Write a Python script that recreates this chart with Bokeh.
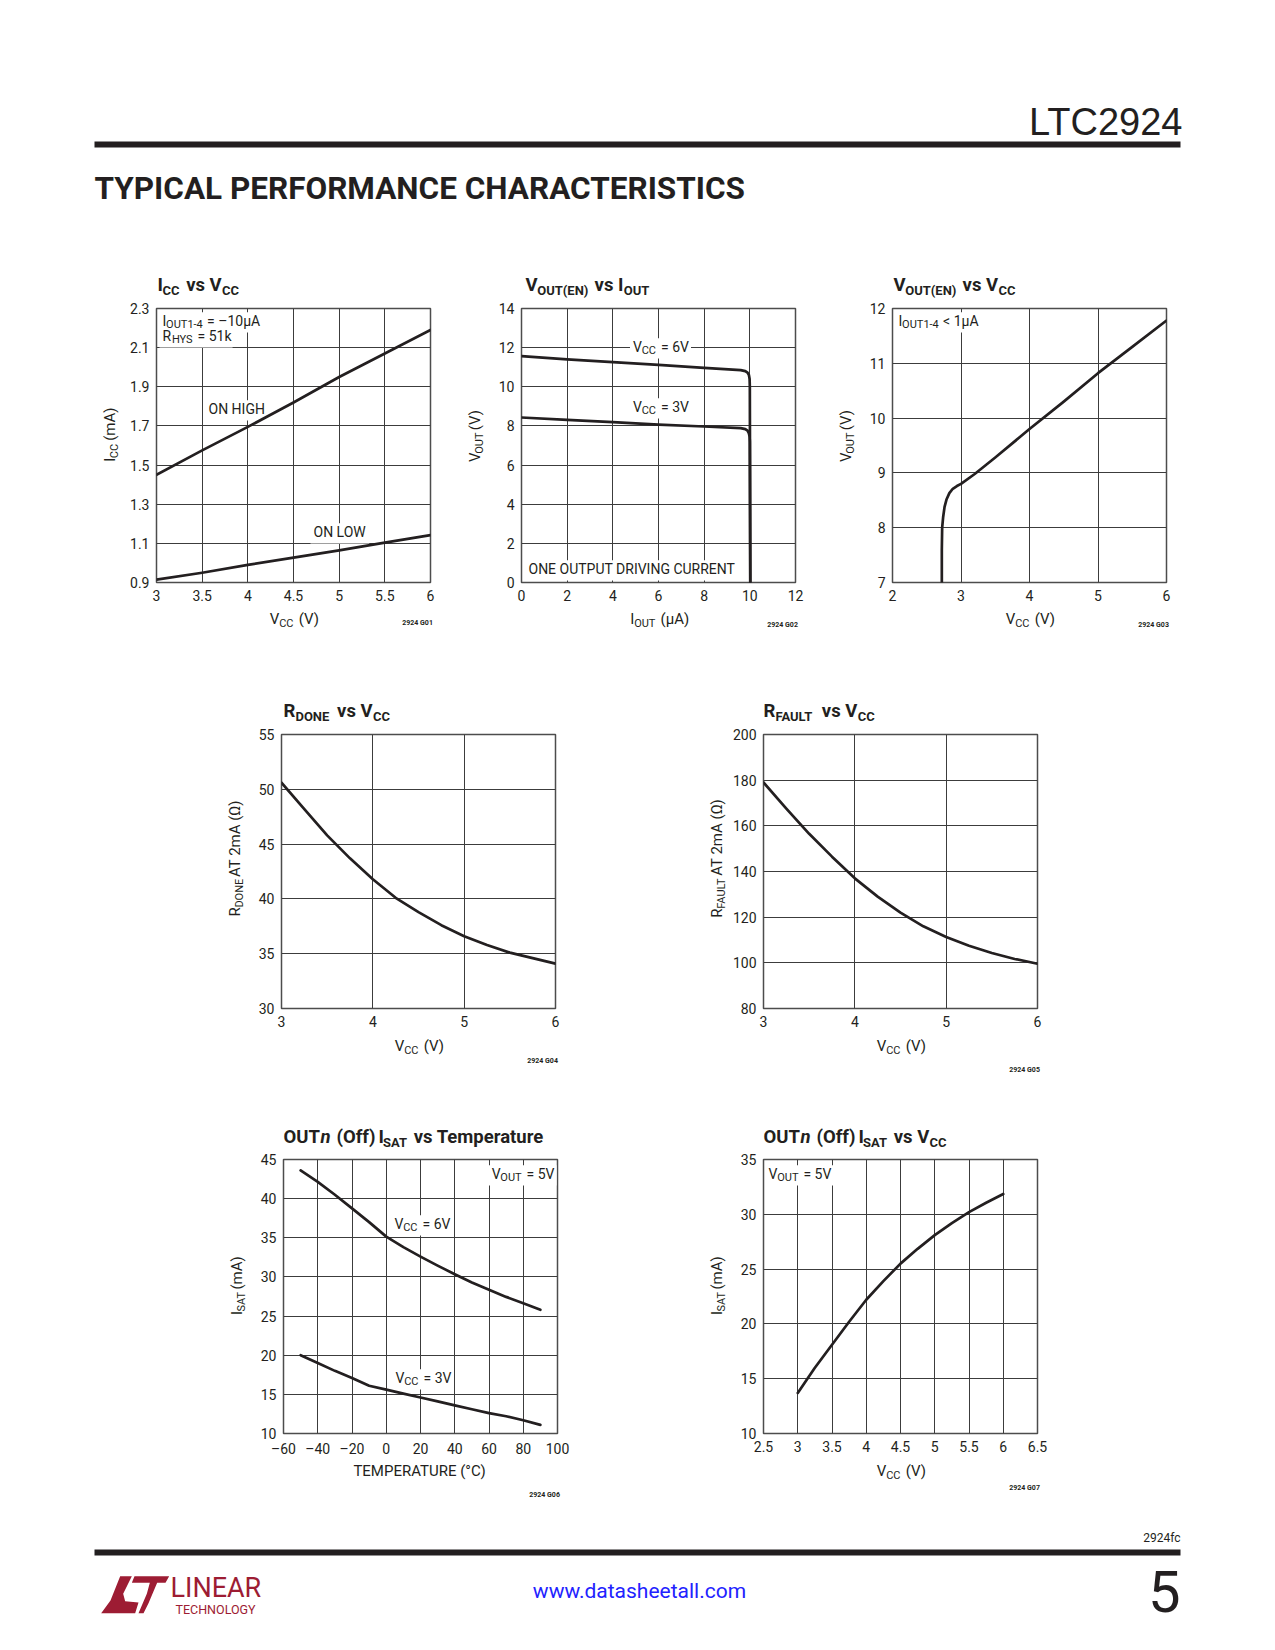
import math
from bokeh.plotting import figure
from bokeh.models import Label, Range1d, FixedTicker
from bokeh.layouts import column, row
from bokeh.embed import file_html
from bokeh.resources import INLINE

# ---------------- data ----------------
# G01  ICC vs VCC
icc_vcc = [3.0, 3.5, 4.0, 4.5, 5.0, 5.5, 6.0]
icc_on_high = [1.45, 1.575, 1.695, 1.82, 1.95, 2.07, 2.19]
icc_on_low = [0.915, 0.95, 0.99, 1.027, 1.064, 1.104, 1.142]
icc_xticks = [3, 3.5, 4, 4.5, 5, 5.5, 6]
icc_xlabels = ["3", "3.5", "4", "4.5", "5", "5.5", "6"]
icc_yticks = [0.9, 1.1, 1.3, 1.5, 1.7, 1.9, 2.1, 2.3]
icc_ylabels = ["0.9", "1.1", "1.3", "1.5", "1.7", "1.9", "2.1", "2.3"]

# G02  VOUT(EN) vs IOUT
vi_iout_6v = [0, 2, 4, 6, 8, 9.6, 9.8, 9.9, 9.96, 9.99, 10.0, 10.02]
vi_vout_6v = [11.57, 11.4, 11.26, 11.12, 10.97, 10.85, 10.8, 10.72, 10.6, 10.4, 10.0, 0.0]
vi_iout_3v = [0, 2, 4, 6, 8, 9.6, 9.8, 9.9, 9.96, 9.99, 10.0, 10.02]
vi_vout_3v = [8.43, 8.31, 8.19, 8.07, 7.97, 7.89, 7.84, 7.76, 7.62, 7.45, 7.2, 0.0]
vi_xticks = [0, 2, 4, 6, 8, 10, 12]
vi_xlabels = ["0", "2", "4", "6", "8", "10", "12"]
vi_yticks = [0, 2, 4, 6, 8, 10, 12, 14]
vi_ylabels = ["0", "2", "4", "6", "8", "10", "12", "14"]

# G03  VOUT(EN) vs VCC
vv_vcc = [2.72, 2.72, 2.725, 2.74, 2.76, 2.79, 2.83, 2.88, 2.94, 3.0, 3.2, 3.5, 4.0, 4.5, 5.0, 5.5, 6.0]
vv_vout = [7.0, 7.6, 8.0, 8.2, 8.38, 8.52, 8.63, 8.71, 8.76, 8.8, 8.98, 9.28, 9.8, 10.3, 10.82, 11.3, 11.78]
vv_xticks = [2, 3, 4, 5, 6]
vv_xlabels = ["2", "3", "4", "5", "6"]
vv_yticks = [7, 8, 9, 10, 11, 12]
vv_ylabels = ["7", "8", "9", "10", "11", "12"]

# G04  RDONE vs VCC
rd_vcc = [3.0, 3.25, 3.5, 3.75, 4.0, 4.25, 4.5, 4.75, 5.0, 5.25, 5.5, 5.75, 6.0]
rd_ohm = [50.6, 48.2, 45.8, 43.7, 41.8, 40.1, 38.8, 37.6, 36.6, 35.8, 35.1, 34.6, 34.1]
rd_xticks = [3, 4, 5, 6]
rd_xlabels = ["3", "4", "5", "6"]
rd_yticks = [30, 35, 40, 45, 50, 55]
rd_ylabels = ["30", "35", "40", "45", "50", "55"]

# G05  RFAULT vs VCC
rf_vcc = [3.0, 3.25, 3.5, 3.75, 4.0, 4.25, 4.5, 4.75, 5.0, 5.25, 5.5, 5.75, 6.0]
rf_ohm = [179.0, 167.5, 156.5, 146.5, 137.0, 129.0, 122.0, 116.0, 111.3, 107.5, 104.3, 101.7, 99.6]
rf_xticks = [3, 4, 5, 6]
rf_xlabels = ["3", "4", "5", "6"]
rf_yticks = [80, 100, 120, 140, 160, 180, 200]
rf_ylabels = ["80", "100", "120", "140", "160", "180", "200"]

# G06  OUTn (Off) ISAT vs Temperature
it_temp = [-50, -40, -30, -20, -10, 0, 10, 20, 30, 40, 50, 60, 70, 80, 90]
it_isat_6v = [43.6, 42.15, 40.5, 38.75, 37.0, 35.15, 33.8, 32.6, 31.45, 30.35, 29.3, 28.35, 27.45, 26.65, 25.8]
it_isat_3v = [20.0, 19.0, 18.0, 17.1, 16.1, 15.6, 15.1, 14.6, 14.1, 13.6, 13.1, 12.6, 12.2, 11.7, 11.1]
it_xticks = [-60, -40, -20, 0, 20, 40, 60, 80, 100]
it_xlabels = ["\u201360", "\u201340", "\u201320", "0", "20", "40", "60", "80", "100"]
it_yticks = [10, 15, 20, 25, 30, 35, 40, 45]
it_ylabels = ["10", "15", "20", "25", "30", "35", "40", "45"]

# G07  OUTn (Off) ISAT vs VCC
iv_vcc = [3.0, 3.25, 3.5, 3.75, 4.0, 4.25, 4.5, 4.75, 5.0, 5.25, 5.5, 5.75, 6.0]
iv_isat = [13.7, 16.0, 18.1, 20.2, 22.2, 23.9, 25.5, 26.85, 28.1, 29.2, 30.2, 31.05, 31.85]
iv_xticks = [2.5, 3, 3.5, 4, 4.5, 5, 5.5, 6, 6.5]
iv_xlabels = ["2.5", "3", "3.5", "4", "4.5", "5", "5.5", "6", "6.5"]
iv_yticks = [10, 15, 20, 25, 30, 35]
iv_ylabels = ["10", "15", "20", "25", "30", "35"]

# ---------------- styling ----------------
TXT = "#231f20"
MAROON = "#9d1c33"
FONT = "Roboto"
FS = 274          # plot frame size in px
W = 1270          # page content width
MBL = 34          # chart border for y tick labels
MBR = 15
BSHIFT = 0.335    # measured offset of the rendered baseline, in em

W_REG = {' ': 278, '(': 333, ')': 333, '=': 584, '<': 584, '.': 278, ',': 278, '-': 333,
         '\u2013': 556, '\u00b5': 556, '\u03a9': 768, '\u00b0': 400,
         'A': 667, 'B': 667, 'C': 722, 'D': 722, 'E': 667, 'F': 611, 'G': 778, 'H': 722, 'I': 278,
         'J': 500, 'K': 667, 'L': 556, 'M': 833, 'N': 722, 'O': 778, 'P': 667, 'Q': 778, 'R': 722,
         'S': 667, 'T': 611, 'U': 722, 'V': 667, 'W': 944, 'X': 667, 'Y': 667, 'Z': 611,
         'a': 556, 'b': 556, 'c': 500, 'd': 556, 'e': 556, 'f': 278, 'g': 556, 'h': 556, 'i': 222,
         'j': 222, 'k': 500, 'l': 222, 'm': 833, 'n': 556, 'o': 556, 'p': 556, 'q': 556, 'r': 333,
         's': 500, 't': 278, 'u': 556, 'v': 500, 'w': 722, 'x': 500, 'y': 500, 'z': 500}
W_BOLD = dict(W_REG)
W_BOLD.update({'A': 722, 'B': 722, 'K': 722, 'L': 611, 'J': 556, 'R': 680,
               'b': 611, 'c': 556, 'd': 611, 'f': 333, 'g': 611, 'h': 611, 'i': 278, 'j': 278,
               'k': 556, 'l': 278, 'm': 889, 'n': 611, 'o': 611, 'p': 611, 'q': 611, 'r': 389,
               's': 556, 't': 333, 'u': 611, 'v': 556, 'w': 778, 'x': 556, 'y': 556})


def tw(s, size, bold=False):
    t = W_BOLD if bold else W_REG
    return sum(t.get(c, 556) for c in s) * size / 1000.0 * (0.95 if bold else 0.93)


def rich(p, conv, px, py, parts, size, sub, drop, bold=False, align="left",
         vertical=False, bg=None, color=TXT):
    """Draw a run of text segments (normal / subscript / italic); px, py = baseline in page pixels."""
    sizes = [sub if k == "s" else size for _, k in parts]
    widths = [tw(t, s, bold) + (0.8 if k == "s" else 0.0) for (t, k), s in zip(parts, sizes)]
    total = sum(widths)
    off = {"left": 0.0, "center": -total / 2.0, "right": -total}[align]
    if bg:
        xa, ya = conv(px + off - 3, py - size * 0.8 - 2)
        xb, yb = conv(px + off + total + 3, py + drop + 4)
        p.quad(left=[min(xa, xb)], right=[max(xa, xb)], bottom=[min(ya, yb)], top=[max(ya, yb)],
               fill_color=bg, line_color=None)
    for (t, k), s, w in zip(parts, sizes, widths):
        lead = len(t) - len(t.lstrip(" "))
        shown = t.strip(" ")
        start = off + tw(" " * lead, s, bold) * 1.05
        d = (drop if k == "s" else 0) - BSHIFT * s
        if vertical:
            x, y = conv(px + d, py - start)
        else:
            x, y = conv(px + start, py + d)
        style = "bold" if bold else "normal"
        if k == "i":
            style = "bold italic" if bold else "italic"
        p.add_layout(Label(x=x, y=y, text=shown, text_font=FONT, text_font_size=f"{s}px",
                           text_font_style=style, text_color=color, text_align="left",
                           text_baseline="alphabetic",
                           angle=(math.pi / 2 if vertical else 0.0)))
        off += w


def page_conv(px, py):
    # blank figures use page pixels, with y stored as -page_y
    return px, -py


def blank(x0, x1, y0, y1):
    """Figure without axes whose data space is page pixels."""
    p = figure(width=int(x1 - x0), height=int(y1 - y0), x_range=Range1d(x0, x1),
               y_range=Range1d(-y1, -y0), output_backend="svg", toolbar_location=None,
               title=None, x_axis_type=None, y_axis_type=None, min_border=0)
    p.outline_line_color = None
    return p


def plain(p, px, py, text, size, align="left", color=TXT, font=FONT, style="normal"):
    x, y = page_conv(px, py - BSHIFT * size)
    p.add_layout(Label(x=x, y=y, text=text, text_font=font, text_font_size=f"{size}px",
                       text_font_style=style, text_color=color, text_align=align,
                       text_baseline="alphabetic"))


def bar(p, x0, x1, y0, y1, color=TXT):
    p.quad(left=[x0], right=[x1], top=[-y0], bottom=[-y1], fill_color=color, line_color=None)


def chart(s, fig_x0, fig_x1, fig_y0, fig_y1):
    fl, ft = s["fl"], s["ft"]
    xr, yr = s["xr"], s["yr"]
    width, height = fig_x1 - fig_x0, fig_y1 - fig_y0
    p = figure(width=width, height=height, x_range=Range1d(xr[0], xr[1]),
               y_range=Range1d(yr[0], yr[1]), output_backend="svg", toolbar_location=None,
               title=None, min_border_left=fl - fig_x0, min_border_right=fig_x1 - fl - FS,
               min_border_top=ft - fig_y0, min_border_bottom=fig_y1 - ft - FS)
    p.xaxis.ticker = FixedTicker(ticks=s["xt"])
    p.yaxis.ticker = FixedTicker(ticks=s["yt"])
    p.xaxis.major_label_overrides = dict(zip(s["xt"], s["xl"]))
    p.yaxis.major_label_overrides = dict(zip(s["yt"], s["yl"]))
    for ax in (p.xaxis, p.yaxis):
        ax.axis_line_color = None
        ax.major_tick_line_color = None
        ax.minor_tick_line_color = None
        ax.major_tick_in = 0
        ax.major_tick_out = 0
        ax.minor_tick_in = 0
        ax.minor_tick_out = 0
        ax.major_label_text_font = FONT
        ax.major_label_text_font_size = "14px"
        ax.major_label_text_color = TXT
    p.xaxis.major_label_standoff = 7
    p.yaxis.major_label_standoff = 7
    p.grid.grid_line_color = "#3c3c3c"
    p.grid.grid_line_width = 1
    p.outline_line_color = "#4d4d4d"
    p.outline_line_width = 1.5

    def conv(px, py):
        return (xr[0] + (px - fl) * (xr[1] - xr[0]) / FS,
                yr[1] - (py - ft) * (yr[1] - yr[0]) / FS)

    for (nx, ny, parts, align) in s["notes"]:
        rich(p, conv, nx, ny, parts, 14, 11, 3, align=align, bg="white")
    for (cx, cy) in s["curves"]:
        p.line(cx, cy, line_color=TXT, line_width=2.7, line_join="round", line_cap="round")
    return p


def make_row(specs, strip_y0, chart_y0, chart_y1, strip_y1, xlab_base):
    top = blank(0, W, strip_y0, chart_y0)
    bot = blank(0, W, chart_y1, strip_y1)
    items = []
    x = 0
    for i, s in enumerate(specs):
        fig_x0 = s["fl"] - MBL
        yl = blank(x, fig_x0, chart_y0, chart_y1)
        rich(yl, page_conv, s["fl"] - 41, s["ft"] + FS / 2, s["ylab"], 15, 11, 3,
             align="center", vertical=True)
        items.append(yl)
        fig_x1 = W if i == len(specs) - 1 else s["fl"] + FS + MBR
        items.append(chart(s, fig_x0, fig_x1, chart_y0, chart_y1))
        x = fig_x1
        rich(top, page_conv, s["title_x"], s["title_y"], s["title"], 18.5, 13, 3, bold=True)
        rich(bot, page_conv, s["fl"] + FS / 2, xlab_base, s["xlab"], 15, 11, 3, align="center")
        rich(bot, page_conv, s["fl"] + FS + 1, s["code_y"], [(s["code"], "n")], 7, 7, 0,
             bold=True, align="right")
    return column(top, row(*items), bot)


def sub_parts(main, sub, rest=""):
    out = [(main, "n"), (sub, "s")]
    if rest:
        out.append((rest, "n"))
    return out


VCC_LAB = sub_parts("V", "CC", " (V)")

g01 = dict(fl=156, ft=308, xr=(3, 6), yr=(0.9, 2.3), xt=icc_xticks, xl=icc_xlabels,
           yt=icc_yticks, yl=icc_ylabels,
           title=[("I", "n"), ("CC", "s"), (" vs V", "n"), ("CC", "s")], title_x=157, title_y=291,
           ylab=sub_parts("I", "CC", " (mA)"), xlab=VCC_LAB, code="2924 G01", code_y=625,
           curves=[(icc_vcc, icc_on_high), (icc_vcc, icc_on_low)],
           notes=[(162, 325, sub_parts("I", "OUT1-4", " = \u201310\u00b5A"), "left"),
                  (162, 340, sub_parts("R", "HYS", " = 51k"), "left"),
                  (208, 413, [("ON HIGH", "n")], "left"),
                  (313, 536, [("ON LOW", "n")], "left")])
g02 = dict(fl=521, ft=308, xr=(0, 12), yr=(0, 14), xt=vi_xticks, xl=vi_xlabels,
           yt=vi_yticks, yl=vi_ylabels,
           title=[("V", "n"), ("OUT(EN)", "s"), (" vs I", "n"), ("OUT", "s")], title_x=525, title_y=291,
           ylab=sub_parts("V", "OUT", " (V)"), xlab=sub_parts("I", "OUT", " (\u00b5A)"),
           code="2924 G02", code_y=627,
           curves=[(vi_iout_6v, vi_vout_6v), (vi_iout_3v, vi_vout_3v)],
           notes=[(660, 351, sub_parts("V", "CC", " = 6V"), "center"),
                  (660, 411, sub_parts("V", "CC", " = 3V"), "center"),
                  (528, 573, [("ONE OUTPUT DRIVING CURRENT", "n")], "left")])
g03 = dict(fl=892, ft=308, xr=(2, 6), yr=(7, 12), xt=vv_xticks, xl=vv_xlabels,
           yt=vv_yticks, yl=vv_ylabels,
           title=[("V", "n"), ("OUT(EN)", "s"), (" vs V", "n"), ("CC", "s")], title_x=893, title_y=291,
           ylab=sub_parts("V", "OUT", " (V)"), xlab=VCC_LAB, code="2924 G03", code_y=627,
           curves=[(vv_vcc, vv_vout)],
           notes=[(898, 325, sub_parts("I", "OUT1-4", " < 1\u00b5A"), "left")])
g04 = dict(fl=281, ft=734, xr=(3, 6), yr=(30, 55), xt=rd_xticks, xl=rd_xlabels,
           yt=rd_yticks, yl=rd_ylabels,
           title=[("R", "n"), ("DONE", "s"), (" vs V", "n"), ("CC", "s")], title_x=283, title_y=717,
           ylab=sub_parts("R", "DONE", " AT 2mA (\u03a9)"), xlab=VCC_LAB, code="2924 G04", code_y=1063,
           curves=[(rd_vcc, rd_ohm)], notes=[])
g05 = dict(fl=763, ft=734, xr=(3, 6), yr=(80, 200), xt=rf_xticks, xl=rf_xlabels,
           yt=rf_yticks, yl=rf_ylabels,
           title=[("R", "n"), ("FAULT", "s"), (" vs V", "n"), ("CC", "s")], title_x=763, title_y=717,
           ylab=sub_parts("R", "FAULT", " AT 2mA (\u03a9)"), xlab=VCC_LAB, code="2924 G05", code_y=1072,
           curves=[(rf_vcc, rf_ohm)], notes=[])
g06 = dict(fl=283, ft=1159, xr=(-60, 100), yr=(10, 45), xt=it_xticks, xl=it_xlabels,
           yt=it_yticks, yl=it_ylabels,
           title=[("OUT", "n"), ("n", "i"), (" (Off)", "n"), (" I", "n"), ("SAT", "s"),
                  (" vs Temperature", "n")],
           title_x=283, title_y=1143,
           ylab=sub_parts("I", "SAT", " (mA)"), xlab=[("TEMPERATURE (\u00b0C)", "n")],
           code="2924 G06", code_y=1497,
           curves=[(it_temp, it_isat_6v), (it_temp, it_isat_3v)],
           notes=[(553, 1178, sub_parts("V", "OUT", " = 5V"), "right"),
                  (394, 1228, sub_parts("V", "CC", " = 6V"), "left"),
                  (395, 1382, sub_parts("V", "CC", " = 3V"), "left")])
g07 = dict(fl=763, ft=1159, xr=(2.5, 6.5), yr=(10, 35), xt=iv_xticks, xl=iv_xlabels,
           yt=iv_yticks, yl=iv_ylabels,
           title=[("OUT", "n"), ("n", "i"), (" (Off)", "n"), (" I", "n"), ("SAT", "s"),
                  (" vs V", "n"), ("CC", "s")],
           title_x=763, title_y=1143,
           ylab=sub_parts("I", "SAT", " (mA)"), xlab=VCC_LAB, code="2924 G07", code_y=1490,
           curves=[(iv_vcc, iv_isat)],
           notes=[(768, 1178, sub_parts("V", "OUT", " = 5V"), "left")])

row1 = make_row([g01, g02, g03], 230, 299, 608, 650, 624)
row2 = make_row([g04, g05], 650, 725, 1034, 1080, 1051)
row3 = make_row([g06, g07], 1080, 1150, 1459, 1515, 1476)

# ---- header ----
hdr = blank(0, W, 0, 230)
plain(hdr, 1182, 134, "LTC2924", 38, align="right", font="Liberation Sans")
bar(hdr, 94, 1180, 141, 147)
plain(hdr, 94, 199, "TYPICAL PERFORMANCE CHARACTERISTICS", 31.5, style="bold")

# ---- footer ----
ftr = blank(0, W, 1515, 1645)
plain(ftr, 1180, 1542, "2924fc", 12, align="right")
bar(ftr, 94, 1180, 1549, 1555)
plain(ftr, 639, 1598, "www.datasheetall.com", 21, align="center", color="#2222ff")
plain(ftr, 1180, 1610, "5", 58, align="right")
logo_l = [(95, 47), (130, 47), (104, 100), (110, 122), (150, 126), (140, 158), (38, 158), (66, 120)]
logo_t = [(138, 47), (242, 47), (231, 67), (206, 67), (180, 128), (165, 158), (150, 158),
          (175, 100), (184, 67), (130, 67)]
ftr.patches(xs=[[88 + a / 3 for a, b in logo_l], [88 + a / 3 for a, b in logo_t]],
            ys=[[-(1560 + b / 3) for a, b in logo_l], [-(1560 + b / 3) for a, b in logo_t]],
            fill_color=MAROON, line_color=None)
plain(ftr, 170, 1597, "LINEAR", 27, color=MAROON)
plain(ftr, 175, 1613, "TECHNOLOGY", 12.5, color=MAROON)

page = column(hdr, row1, row2, row3, ftr)
open("out.html", "w").write(file_html(page, INLINE))
